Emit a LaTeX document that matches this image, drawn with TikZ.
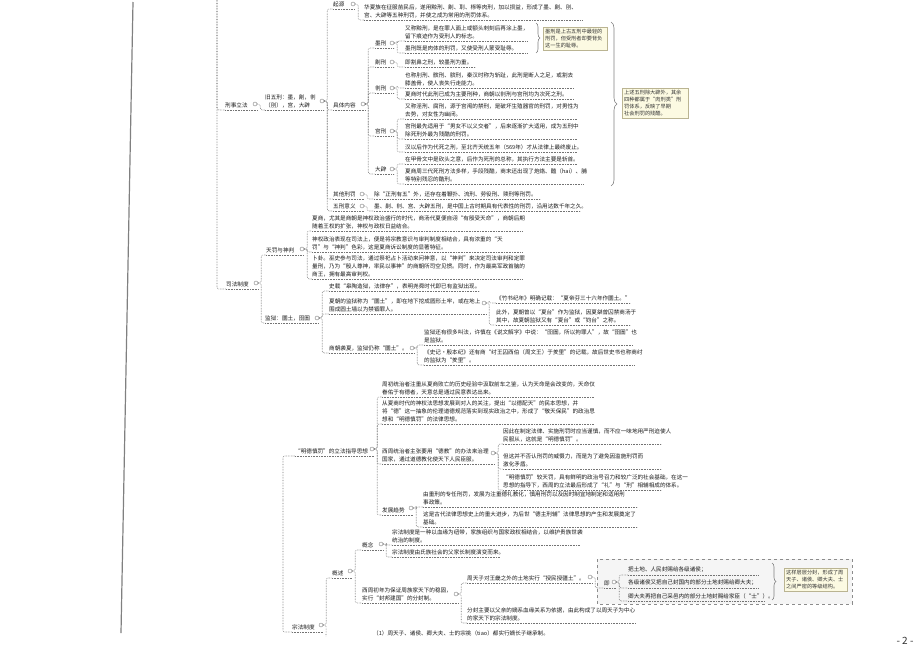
\documentclass[tikz,border=0pt]{standalone}
\usepackage{fontspec}
\usepackage{tikz}
\usetikzlibrary{decorations.pathreplacing}
\newfontfamily\cjk{Noto Sans CJK SC}
\definecolor{notefill}{RGB}{252,250,226}
\definecolor{notedraw}{RGB}{186,180,146}

\begin{document}
\begin{tikzpicture}[x=1pt, y=-1pt,
  txt/.style={anchor=south west, inner xsep=0pt, inner ysep=2.2pt, align=left,
    font=\cjk\fontsize{5.6}{7.8}\selectfont, text=black!90},
  knob/.style={circle, draw=black!50, fill=white, inner sep=0pt, minimum size=4pt},
  conn/.style={draw=black!55, line width=0.6pt, densely dotted, rounded corners=2pt},
  uline/.style={draw=black!55, line width=0.6pt, densely dotted},
  note/.style={anchor=north west, draw=notedraw, fill=notefill, inner sep=2pt, align=left,
    font=\cjk\fontsize{5.2}{7}\selectfont, text=black!80},
  brc/.style={draw=black!50, line width=0.6pt, decorate, decoration={brace, amplitude=4pt}}]
\useasboundingbox (0,0) rectangle (920,651);

% page edge line
\draw[line width=1.2pt, black!50] (133,2) -- (121,633);

% group box
\draw[dashed, draw=black!45, fill=black!4] (597,559) rectangle (852,604);

% ---- xingshi lifa
\node[txt] (xsfl) at (225,110) {刑事立法};
\node[knob] (xsfl-k) at (255,104) {};
\node[txt, text width=56pt] (jwx) at (265,110) {旧五刑：墨，劓，剕\\（刖），宫，大辟};
\node[knob] (jwx-k) at (322,101) {};

\node[txt] (qy) at (333,9) {起源};
\node[knob] (qy-k) at (353,4) {};
\node[txt, text width=218pt] (q1) at (364,20) {华夏族在征服苗民后，遂用黥刑、劓、刵、椓等肉刑，加以损益，形成了墨、劓、刖、\\宫、大辟等五种刑罚，并使之成为常用的刑罚体系。};

\node[txt] (jtnr) at (333,110) {具体内容};
\node[knob] (jtnr-k) at (363,104) {};

\node[txt] (mo) at (375,48) {墨刑};
\node[knob] (mo-k) at (392,43) {};
\node[txt, text width=122pt] (mo1) at (405,41) {又称黥刑，是在罪人面上或额头刺刻后再涂上墨，\\留下痕迹作为受刑人的标志。};
\node[txt, text width=122pt] (mo2) at (405,53) {墨刑既是肉体的刑罚，又使受刑人蒙受耻辱。};

\node[txt] (yi) at (375,67) {劓刑};
\node[knob] (yi-k) at (392,62) {};
\node[txt, text width=70pt] (yi1) at (405,67) {即割鼻之刑，较墨刑为重。};

\node[txt] (fei) at (375,93) {剕刑};
\node[knob] (fei-k) at (392,88) {};
\node[txt, text width=168pt] (fei1) at (405,88) {也称刖刑、髌刑、膑刑，秦汉时称为斩趾，此刑是断人之足，或割去\\膝盖骨，使人丧失行走能力。};
\node[txt, text width=168pt] (fei2) at (405,99) {夏商时代此刑已成为主要刑种，商朝以剕刑与宫刑均为次死之刑。};

\node[txt] (gong) at (375,136) {宫刑};
\node[knob] (gong-k) at (392,131) {};
\node[txt, text width=172pt] (g1) at (405,119) {又称淫刑、腐刑，源于宫闱的禁刑，是破坏生殖器官的刑罚，对男性为\\去势，对女性为幽闭。};
\node[txt, text width=172pt] (g2) at (405,139) {宫刑最先适用于“男女不以义交者”，后来逐渐扩大适用，成为五刑中\\除死刑外最为残酷的刑罚。};
\node[txt, text width=172pt] (g3) at (405,152) {汉以后作为代死之刑，至北齐天统五年（569年）才从法律上最终废止。};

\node[txt] (dp) at (375,174) {大辟};
\node[knob] (dp-k) at (392,169) {};
\node[txt, text width=172pt] (d1) at (405,164) {在甲骨文中是砍头之意，后作为死刑的总称，其执行方法主要是斩首。};
\node[txt, text width=178pt] (d2) at (405,184) {夏商周三代死刑方法多样，手段残酷，商末还出现了炮烙、醢（hai）、脯\\等特别残忍的酷刑。};

\node[txt] (qt) at (333,199) {其他刑罚};
\node[knob] (qt-k) at (362,194) {};
\node[txt, text width=166pt] (qt1) at (374,199) {除“正刑有五”外，还存在着鞭扑、流刑、劳役刑、赎刑等刑罚。};

\node[txt] (yy) at (333,211) {五刑意义};
\node[knob] (yy-k) at (362,206) {};
\node[txt, text width=206pt] (yy1) at (374,211) {墨、劓、剕、宫、大辟五刑，是中国上古时期具有代表性的刑罚，沿用达数千年之久。};

% notes on the right
\draw[brc] (536,23) -- (536,53);
\node[note, text width=60pt] (nt1) at (543,27) {墨刑是上古五刑中最轻的\\刑罚，但受刑者却要背负\\这一生的耻辱。};
\draw[brc, decoration={amplitude=6pt}] (611,22) -- (611,186);
\node[note, text width=62pt] (nt2) at (622,88) {上述五刑除大辟外，其余\\四种都属于“肉刑类”刑\\罚体系，反映了早期\\社会刑罚的残酷。};

% ---- sifa zhidu
\node[txt] (sfzd) at (226,289) {司法制度};
\node[knob] (sfzd-k) at (256,283) {};

\node[txt] (tf) at (266,255) {天罚与神判};
\node[knob] (tf-k) at (302,249) {};
\node[txt, text width=210pt] (tf1) at (312,231) {夏商，尤其是商朝是神权政治盛行的时代，商汤代夏便自诩“有殷受天命”，商朝后期\\随着王权的扩张，神权与政权日益结合。};
\node[txt, text width=210pt] (tf2) at (312,252) {神权政治表现在司法上，便是将宗教意识与审判制度相结合，具有浓重的“天\\罚”与“神判”色彩，这是夏商诉讼制度的显著特征。};
\node[txt, text width=210pt] (tf3) at (312,279) {卜卦。巫史参与司法，通过祭祀占卜活动来问神意，以“神判”来决定司法审判和定罪\\量刑，乃为“殷人尊神，率民以事神”的商朝所司空见惯。同时，作为最高军政首脑的\\商王，拥有最高审判权。};

\node[txt] (jy) at (265,323) {监狱：圜土，囹圄};
\node[knob] (jy-k) at (317,318) {};
\node[txt, text width=150pt] (jy1) at (329,291) {史载“皋陶造狱，法律存”，表明尧舜时代即已有监狱出现。};
\node[txt, text width=150pt] (jy2) at (329,314) {夏朝的监狱称为“圜土”，即在地下挖成圆形土牢，或在地上\\围成圆土墙以为禁锢罪人。};
\node[knob] (jy2-k) at (484,303) {};
\node[txt, text width=134pt] (jy2a) at (496,303) {《竹书纪年》明确记载：“夏帝芬三十六年作圜土。”};
\node[txt, text width=134pt] (jy2b) at (496,325) {此外，夏朝曾以“夏台”作为监狱，因夏桀曾囚禁商汤于\\其中，故夏朝监狱又有“夏台”或“钧台”之称。};
\node[txt] (jy3) at (329,353) {商朝袭夏，监狱仍称“圜土”。};
\node[knob] (jy3-k) at (412,348) {};
\node[txt, text width=208pt] (jy3a) at (424,345) {监狱还有很多叫法，许慎在《说文解字》中说：“囹圄，所以拘罪人”，故“囹圄”也\\是监狱。};
\node[txt, text width=210pt] (jy3b) at (424,365) {《史记·殷本纪》还有商“纣王囚西伯（周文王）于羑里”的记载，故后世史书也称商纣\\的监狱为“羑里”。};

% ---- mingde shenfa
\node[txt] (md) at (295,456) {“明德慎罚”的立法指导思想};
\node[knob] (md-k) at (372,449) {};
\node[txt, text width=212pt] (md1) at (382,397) {周初统治者注重从夏商败亡的历史经验中汲取前车之鉴，认为天命是会改变的，天命仅\\眷佑于有德者，天意总是通过民意表达出来。};
\node[txt, text width=212pt] (md2) at (382,424) {从夏商时代的神权法思想发展到对人的关注，提出“以德配天”的民本思想，并\\将“德”这一抽象的伦理道德规范落实到现实政治之中，形成了“敬天保民”的政治思\\想和“明德慎罚”的法律思想。};
\node[txt, text width=108pt] (md3) at (382,464) {西周统治者主张要用“德教”的办法来治理\\国家，通过道德教化使天下人民臣服。};
\node[knob] (md3-k) at (493,453) {};
\node[txt, text width=158pt] (md3a) at (503,444) {因此在制定法律、实施刑罚时应当谨慎，而不应一味地用严刑迫使人\\民服从，这就是“明德慎罚”。};
\node[txt, text width=158pt] (md3b) at (503,469) {但这并不否认刑罚的威慑力，而是为了避免因滥施刑罚而\\激化矛盾。};
\node[txt, text width=158pt] (md3c) at (503,490) {“明德慎罚”较天罚，具有鲜明的政治号召力和较广泛的社会基础，在这一\\思想的指导下，西周的立法最后形成了“礼”与“刑”相辅相成的体系。};
\node[txt] (fz) at (382,515) {发展趋势};
\node[knob] (fz-k) at (411,508) {};
\node[txt, text width=214pt] (fz1) at (423,507) {由重刑的专任刑罚，发展为注重德礼教化，慎用刑罚以及因时制宜地制定和适用刑\\事政策。};
\node[txt, text width=214pt] (fz2) at (423,527) {这是古代法律思想史上的重大进步，为后世“德主刑辅”法律思想的产生和发展奠定了\\基础。};

% ---- zongfa zhidu
\node[txt] (zf) at (292,632) {宗法制度};
\node[knob] (zf-k) at (321,625) {};
\node[txt] (gs) at (332,578) {概述};
\node[knob] (gs-k) at (350,571) {};
\node[txt] (gn) at (362,550) {概念};
\node[knob] (gn-k) at (381,544) {};
\node[txt, text width=188pt] (gn1) at (392,545) {宗法制度是一种以血缘为纽带，家族组织与国家政权相结合，以维护贵族世袭\\统治的制度。};
\node[txt, text width=108pt] (gn2) at (392,557) {宗法制度由氏族社会的父家长制度演变而来。};
\node[txt, text width=92pt] (fb) at (362,603) {西周初年为保证周族家天下的稳固，\\实行“封邦建国”的分封制。};
\node[knob] (fb-k) at (456,594) {};
\node[txt] (fb1) at (467,583) {周天子对王畿之外的土地实行“授民授疆土”。};
\node[knob] (fb1-k) at (590,577) {};
\node[txt, text width=168pt] (fb2) at (467,623) {分封主要以父亲的嫡系血缘关系为依据，由此构成了以周天子为中心\\的家天下的宗法制度。};
\node[txt] (ji) at (604,588) {即};
\node[knob] (ji-k) at (614,582) {};
\node[txt, text width=130pt] (ji1) at (628,575) {把土地、人民封赐给各级诸侯；};
\node[txt, text width=130pt] (ji2) at (628,588) {各级诸侯又把自己封国内的部分土地封赐给卿大夫；};
\node[txt, text width=136pt] (ji3) at (628,601) {卿大夫再把自己采邑内的部分土地封赐给家臣（“士”）。};
\draw[brc] (772,563) -- (772,600);
\node[note, text width=59pt] (nt3) at (784,568) {这样层层分封，形成了周\\天子、诸侯、卿大夫、士\\之间严密的等级结构。};
\node[txt] (zf1) at (373,638) {（1）周天子、诸侯、卿大夫、士的宗祧（tiao）都实行嫡长子继承制。};

% underlines
\foreach \n in {xsfl,jwx,qy,jtnr,mo,yi,fei,gong,dp,qt,yy,sfzd,tf,jy,jy2,jy3,md,md3,fz,zf,gs,gn,fb,fb1,ji}
  \draw[uline] (\n.south west) -- (\n.south west -| \n-k.east);
\foreach \n in {q1,mo1,mo2,yi1,fei1,fei2,g1,g2,g3,d1,d2,qt1,yy1,tf1,tf2,tf3,jy1,jy2a,jy2b,jy3a,jy3b,md1,md2,md3a,md3b,md3c,fz1,fz2,gn1,gn2,fb2,ji1,ji2,ji3}
  \draw[uline] (\n.south west) -- (\n.south east);

% connectors
\coordinate (top) at (217,0);
\draw[conn] (top) |- (xsfl.south west);
\draw[conn] (top) |- (sfzd.south west);
\coordinate (mdstem) at (283,500);
\draw[conn] (mdstem) |- (md.south west);
\draw[conn] (mdstem) |- (zf.south west);
\coordinate (zfend) at (326,636);
\draw[conn] (zf-k.east) -- ++(3,0) -- (zfend);
\foreach \p/\c in {xsfl/jwx, jwx/qy, jwx/jtnr, jwx/qt, jwx/yy, qy/q1,
    jtnr/mo, jtnr/yi, jtnr/fei, jtnr/gong, jtnr/dp, mo/mo1, mo/mo2, yi/yi1,
    fei/fei1, fei/fei2, gong/g1, gong/g2, gong/g3, dp/d1, dp/d2, qt/qt1, yy/yy1,
    sfzd/tf, sfzd/jy, tf/tf1, tf/tf2, tf/tf3, jy/jy1, jy/jy2, jy/jy3,
    jy2/jy2a, jy2/jy2b, jy3/jy3a, jy3/jy3b,
    md/md1, md/md2, md/md3, md/fz, md3/md3a, md3/md3b, md3/md3c, fz/fz1, fz/fz2,
    zf/gs, gs/gn, gs/fb, gn/gn1, gn/gn2, fb/fb1, fb/fb2, fb1/ji, ji/ji1, ji/ji2, ji/ji3}
  \draw[conn] (\p-k.east) -- ++(3,0) |- (\c.south west);

% page number
\node[font=\cjk\fontsize{10}{10}\selectfont, text=black!80] (pg) at (905,641) {- 2 -};
\end{tikzpicture}
\end{document}
